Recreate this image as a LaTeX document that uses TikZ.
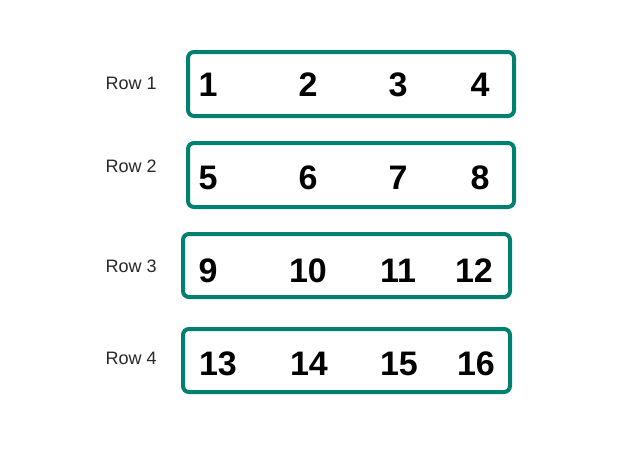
\documentclass[tikz,border=0pt]{standalone}
\usepackage{fontspec}
\setmainfont{Liberation Sans}
\definecolor{teal1}{RGB}{0,128,110}
\definecolor{lbl}{RGB}{40,40,40}
\begin{document}
\begin{tikzpicture}[x=1pt,y=-1pt,
  rowbox/.style={draw=teal1,line width=4pt,rounded corners=6pt},
  num/.style={anchor=base,inner sep=0pt,font=\fontsize{34}{34}\selectfont\bfseries},
  rowlbl/.style={anchor=base west,inner sep=0pt,font=\fontsize{18}{18}\selectfont,text=lbl}]
\useasboundingbox[fill=white] (0,0) rectangle (641,471);
\draw[rowbox] (188,52) rectangle (514,116);
\draw[rowbox] (188,143) rectangle (514,207);
\draw[rowbox] (183,234) rectangle (510,297);
\draw[rowbox] (183,329) rectangle (510,392);
\node[rowlbl] (r1) at (105.5,89) {Row 1};
\node[rowlbl] (r2) at (105.5,172) {Row 2};
\node[rowlbl] (r3) at (105.5,272) {Row 3};
\node[rowlbl] (r4) at (105.5,364) {Row 4};
\node[num] (n1) at (208,96) {1};
\node[num] (n2) at (308,96) {2};
\node[num] (n3) at (398,96) {3};
\node[num] (n4) at (480,96) {4};
\node[num] (n5) at (208,189) {5};
\node[num] (n6) at (308,189) {6};
\node[num] (n7) at (398,189) {7};
\node[num] (n8) at (480,189) {8};
\node[num] (n9) at (208,282) {9};
\node[num] (n10) at (308,282) {10};
\node[num] (n11) at (398,282) {11};
\node[num] (n12) at (474,282) {12};
\node[num] (n13) at (218,375) {13};
\node[num] (n14) at (309,375) {14};
\node[num] (n15) at (399,375) {15};
\node[num] (n16) at (476,375) {16};
\end{tikzpicture}
\end{document}
